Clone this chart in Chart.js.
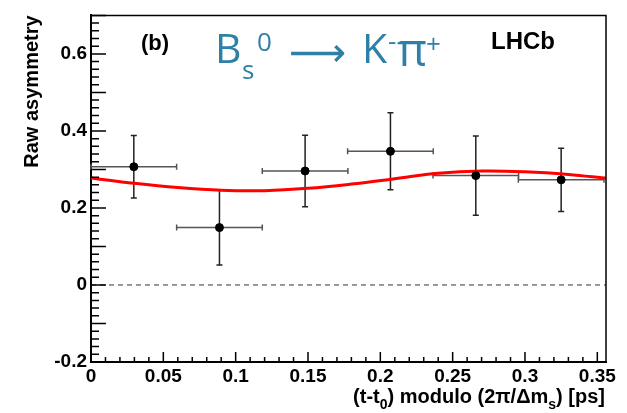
<!DOCTYPE html>
<html lang="en">
<head>
<meta charset="UTF-8">
<title>Raw asymmetry</title>
<script src="https://cdn.jsdelivr.net/npm/chart.js"></script>
<style>
    * { margin: 0; padding: 0; box-sizing: border-box; }
    body { background: #fff; width: 627px; height: 413px; overflow: hidden; }
    canvas { display: block; }
</style>
</head>
<body>
<canvas id="asym" width="627" height="413"></canvas>
<script>
// measured raw asymmetry per time bin
const binCentres = [0.0296, 0.0888, 0.148, 0.207, 0.266, 0.325];
const rawAsym = [0.307, 0.149, 0.296, 0.347, 0.284, 0.273];
const asymErr = [0.081, 0.097, 0.093, 0.100, 0.103, 0.082];
const binHalfWidth = [0.0296, 0.0296, 0.0296, 0.0296, 0.0296, 0.0296];

// fitted curve
const fitX = [0, 0.03, 0.06, 0.09, 0.12, 0.15, 0.18, 0.21, 0.24, 0.27, 0.30, 0.33, 0.356];
const fitY = [0.278, 0.264, 0.253, 0.246, 0.245, 0.251, 0.262, 0.276, 0.290, 0.296, 0.294, 0.287, 0.277];

// dashed zero line
const zeroX = [0, 0.356];
const zeroY = [0, 0];

// axis ticks
const xTicks = [0, 0.05, 0.1, 0.15, 0.2, 0.25, 0.3, 0.35];
const xTickLabels = ['0', '0.05', '0.1', '0.15', '0.2', '0.25', '0.3', '0.35'];
const yTicks = [-0.2, 0, 0.2, 0.4, 0.6];
const yTickLabels = ['-0.2', '0', '0.2', '0.4', '0.6'];

const axisFont = 'Liberation Sans, Arial, sans-serif';

// error bars under the markers
const errorBars = {
    id: 'errorBars',
    beforeDatasetsDraw(chart) {
        const ctx = chart.ctx;
        const xs = chart.scales.x, ys = chart.scales.y;
        ctx.save();
        ctx.lineWidth = 1.5;
        binCentres.forEach((x, i) => {
            const px = xs.getPixelForValue(x);
            const py = ys.getPixelForValue(rawAsym[i]);
            const x0 = xs.getPixelForValue(x - binHalfWidth[i]);
            const x1 = xs.getPixelForValue(x + binHalfWidth[i]);
            const y0 = ys.getPixelForValue(rawAsym[i] - asymErr[i]);
            const y1 = ys.getPixelForValue(rawAsym[i] + asymErr[i]);
            ctx.strokeStyle = '#555';
            ctx.beginPath();
            ctx.moveTo(x0, py); ctx.lineTo(x1, py);
            ctx.moveTo(x0, py - 3); ctx.lineTo(x0, py + 3);
            ctx.moveTo(x1, py - 3); ctx.lineTo(x1, py + 3);
            ctx.stroke();
            ctx.strokeStyle = '#222';
            ctx.beginPath();
            ctx.moveTo(px, y0); ctx.lineTo(px, y1);
            ctx.moveTo(px - 3, y0); ctx.lineTo(px + 3, y0);
            ctx.moveTo(px - 3, y1); ctx.lineTo(px + 3, y1);
            ctx.stroke();
        });
        ctx.restore();
    }
};

// ROOT-style frame, inward ticks and labels
const rootFrame = {
    id: 'rootFrame',
    afterDraw(chart) {
        const ctx = chart.ctx;
        const a = chart.chartArea;
        const xs = chart.scales.x, ys = chart.scales.y;
        ctx.save();
        ctx.strokeStyle = '#000';
        ctx.lineWidth = 1.5;
        ctx.beginPath();
        ctx.moveTo(a.left, a.top); ctx.lineTo(a.right, a.top); ctx.lineTo(a.right, a.bottom);
        ctx.stroke();

        ctx.lineWidth = 1.5;
        ctx.beginPath();
        for (let k = 0; k <= 35; k++) {
            const px = xs.getPixelForValue(k * 0.01);
            const len = k % 5 === 0 ? 10 : 5;
            ctx.moveTo(px, a.bottom); ctx.lineTo(px, a.bottom - len);
        }
        for (let k = -10; k <= 35; k++) {
            const py = ys.getPixelForValue(k * 0.02);
            const len = k % 5 === 0 ? 15 : 8;
            ctx.moveTo(a.left, py); ctx.lineTo(a.left + len, py);
        }
        ctx.stroke();

        // x-axis title with subscripts
        const big = 'bold 20px ' + axisFont;
        const small = 'bold 14px ' + axisFont;
        const parts = [
            ['(t-t', false], ['0', true], [') modulo (2\u03c0/\u0394m', false], ['s', true], [') [ps]', false]
        ];
        let total = 0;
        parts.forEach(p => { ctx.font = p[1] ? small : big; total += ctx.measureText(p[0]).width; });
        let x = 605 - total;
        ctx.fillStyle = '#000';
        ctx.textBaseline = 'alphabetic';
        ctx.textAlign = 'left';
        parts.forEach(p => {
            ctx.font = p[1] ? small : big;
            ctx.fillText(p[0], x, p[1] ? 409 : 403);
            x += ctx.measureText(p[0]).width;
        });

        // labels inside the frame
        ctx.font = 'bold 22px ' + axisFont;
        ctx.fillText('(b)', 141, 50);
        ctx.font = 'bold 24px ' + axisFont;
        ctx.fillText('LHCb', 491, 49);

        // decay title
        ctx.fillStyle = '#2f80a6';
        const deco = 'Open Sans, Noto Sans, sans-serif';
        ctx.font = '41px ' + deco;
        ctx.fillText('B', 215, 63);
        ctx.font = '26px ' + deco;
        ctx.fillText('s', 242, 79);
        ctx.fillText('0', 257, 51);
        ctx.font = '40px DejaVu Sans, sans-serif';
        ctx.fillText('\u27f6', 289, 66, 58);
        ctx.font = '41px ' + deco;
        ctx.fillText('K', 362, 63);
        ctx.font = '26px ' + deco;
        ctx.fillText('-', 388, 50);
        ctx.font = '46px ' + deco;
        ctx.fillText('\u03c0', 397, 66);
        ctx.font = '26px ' + deco;
        ctx.fillText('+', 426, 53);
        ctx.restore();
    }
};

new Chart(document.getElementById('asym'), {
    type: 'scatter',
    data: {
        datasets: [
            {
                label: 'data',
                data: binCentres.map((x, i) => ({ x: x, y: rawAsym[i] })),
                pointRadius: 4,
                pointBackgroundColor: '#000',
                pointBorderColor: '#000',
                showLine: false
            },
            {
                label: 'fit',
                data: fitX.map((x, i) => ({ x: x, y: fitY[i] })),
                showLine: true,
                borderColor: '#ff0000',
                borderWidth: 3,
                pointRadius: 0,
                tension: 0.4,
                fill: false
            },
            {
                label: 'zero',
                data: zeroX.map((x, i) => ({ x: x, y: zeroY[i] })),
                showLine: true,
                borderColor: '#333',
                borderWidth: 1,
                borderDash: [5, 4],
                pointRadius: 0,
                fill: false
            }
        ]
    },
    options: {
        responsive: false,
        animation: false,
        devicePixelRatio: 1,
        layout: { padding: { top: 12, right: 21, left: 0, bottom: 0 } },
        plugins: { legend: { display: false }, tooltip: { enabled: false } },
        scales: {
            x: {
                type: 'linear',
                min: 0,
                max: 0.356,
                grid: { display: false, drawTicks: false },
                border: { color: '#000', width: 2 },
                afterBuildTicks: s => { s.ticks = xTicks.map(v => ({ value: v })); },
                afterFit: s => { s.height = 51; },
                ticks: {
                    callback: (v, i) => xTickLabels[i],
                    font: { family: axisFont, size: 19, weight: 'bold' },
                    color: '#000',
                    padding: 3,
                    maxRotation: 0,
                    autoSkip: false
                }
            },
            y: {
                min: -0.2,
                max: 0.7,
                grid: { display: false, drawTicks: false },
                border: { color: '#000', width: 2 },
                afterBuildTicks: s => { s.ticks = yTicks.map(v => ({ value: v })); },
                afterFit: s => { s.width = 91; },
                ticks: {
                    callback: (v, i) => yTickLabels[i],
                    font: { family: axisFont, size: 19, weight: 'bold' },
                    color: '#000',
                    padding: 4,
                    autoSkip: false
                },
                title: {
                    display: true,
                    text: 'Raw asymmetry',
                    align: 'end',
                    color: '#000',
                    font: { family: axisFont, size: 20, weight: 'bold' },
                    padding: { top: 20 }
                }
            }
        }
    },
    plugins: [errorBars, rootFrame]
});
</script>
</body>
</html>
